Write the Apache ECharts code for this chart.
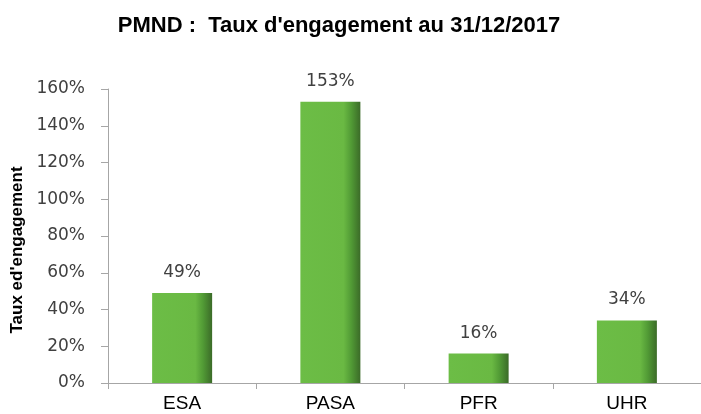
<!DOCTYPE html>
<html>
<head>
<meta charset="utf-8">
<script src="https://cdn.jsdelivr.net/npm/echarts@6/dist/echarts.min.js"></script>
<style>
    html, body { margin: 0; padding: 0; background: #ffffff; }
    #main { width: 701px; height: 414px; }
</style>
</head>
<body>
<div id="main"></div>
<script>
// ============================= données ===============================

const categories = ['ESA', 'PASA', 'PFR', 'UHR'];
const tauxEngagement = [49, 153, 16, 34];   // en %
const axisMax = 160;
const axisStep = 20;

// ============================= options ===============================

const barColor = new echarts.graphic.LinearGradient(0, 0, 1, 0, [
    { offset: 0, color: '#6cbd46' },
    { offset: 0.72, color: '#6ab943' },
    { offset: 0.85, color: '#519a35' },
    { offset: 1, color: '#3b6b28' }
]);

let option = {
    backgroundColor: '#ffffff',
    animation: false,
    title: {
        text: 'PMND :  Taux d\'engagement au 31/12/2017',
        left: 334,
        top: 10,
        textAlign: 'center',
        textStyle: {
            fontFamily: 'Liberation Sans',
            fontWeight: 'bold',
            fontSize: 22,
            color: '#000000'
        }
    },
    grid: {
        left: 108,
        top: 89,
        width: 600,
        bottom: 31
    },
    xAxis: {
        type: 'category',
        data: categories,
        axisLine: { lineStyle: { color: '#a6a6a6', width: 1 } },
        axisTick: { show: true, length: 6, lineStyle: { color: '#a6a6a6' } },
        axisLabel: {
            fontFamily: 'Liberation Sans',
            fontSize: 19,
            color: '#000000',
            margin: 11
        }
    },
    yAxis: {
        type: 'value',
        min: 0,
        max: axisMax,
        interval: axisStep,
        name: 'Taux ed\'engagement',
        nameLocation: 'middle',
        nameGap: 80,
        nameTextStyle: {
            fontFamily: 'Liberation Sans',
            fontWeight: 'bold',
            fontSize: 17,
            color: '#000000',
            padding: [0, 28, 0, 0]
        },
        axisLine: { show: true, lineStyle: { color: '#a6a6a6', width: 1 } },
        axisTick: { show: true, length: 7, lineStyle: { color: '#a6a6a6' } },
        splitLine: { show: false },
        axisLabel: {
            formatter: '{value}%',
            fontFamily: 'DejaVu Sans',
            fontSize: 17,
            color: '#404040',
            margin: 23
        }
    },
    series: [
        {
            type: 'bar',
            data: tauxEngagement,
            barWidth: 60,
            itemStyle: {
                color: barColor
            },
            label: {
                show: true,
                position: 'top',
                distance: 12,
                formatter: '{c}%',
                fontFamily: 'DejaVu Sans',
                fontSize: 17,
                color: '#404040'
            }
        }
    ]
};

echarts.init(document.getElementById('main')).setOption(option);
</script>
</body>
</html>
